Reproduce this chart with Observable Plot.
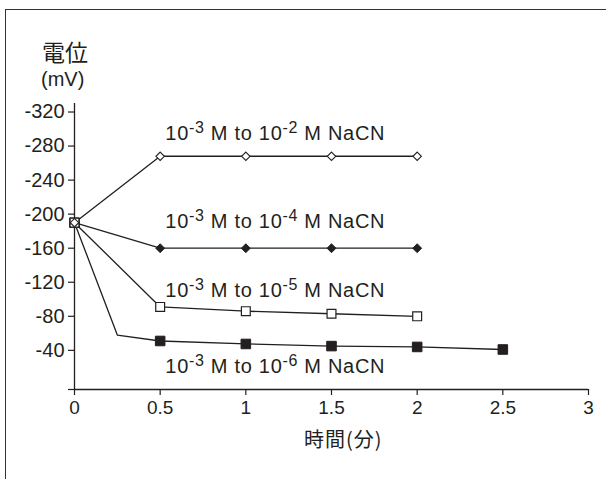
<!DOCTYPE html>
<html><head><meta charset="utf-8">
<script src="https://cdn.jsdelivr.net/npm/d3@7"></script>
<script src="https://cdn.jsdelivr.net/npm/@observablehq/plot@0.6"></script>
<style>
body{margin:0;background:#fff;}
#wrap{position:relative;width:606px;height:479px;overflow:hidden;background:#fff;}
#frame{position:absolute;left:5px;top:9px;width:700px;height:600px;border:1.3px solid #333;}
.t{position:absolute;color:#231f20;white-space:nowrap;line-height:1;}
#chart{position:absolute;left:0;top:0;}
</style></head><body>
<div id="wrap"><div id="frame"></div>
<div class="t" style="left:42px;top:40px;font-size:23px;font-family:'Noto Sans CJK JP'">電位</div>
<div class="t" style="left:41px;top:69px;font-size:20px;font-family:'Liberation Sans',Arial,sans-serif">(mV)</div>
<div class="t" style="left:304px;top:429px;font-size:20px;letter-spacing:1px;font-family:'Noto Sans CJK JP'">時間(分)</div>
<div id="chart"></div>
</div>
<script>
// ---- data ----
const xTicks = [0, 0.5, 1, 1.5, 2, 2.5, 3];
const yTicks = [-320, -280, -240, -200, -160, -120, -80, -40];

const s2Time = [0, 0.5, 1, 1.5, 2];
const s2Val  = [-190, -268, -268, -268, -268];      // 10^-3 M to 10^-2 M NaCN

const s4Time = [0, 0.5, 1, 1.5, 2];
const s4Val  = [-190, -160, -160, -160, -160];      // 10^-3 M to 10^-4 M NaCN

const s5Time = [0, 0.5, 1, 1.5, 2];
const s5Val  = [-190, -91, -86, -83, -80];          // 10^-3 M to 10^-5 M NaCN

const s6Time = [0, 0.25, 0.5, 1, 1.5, 2, 2.5];
const s6Val  = [-190, -58, -51, -47.5, -45, -44, -41]; // 10^-3 M to 10^-6 M NaCN
const s6Marked = [true, false, true, true, true, true, true];

const labelText = ["10^{-3} M to 10^{-2} M NaCN", "10^{-3} M to 10^{-4} M NaCN",
                   "10^{-3} M to 10^{-5} M NaCN", "10^{-3} M to 10^{-6} M NaCN"];
const labelX = [0.53, 0.53, 0.53, 0.53];
const labelY = [-295, -191, -110, -21];

// ---- build ----
const mk = (t, v) => t.map((x, i) => ({x, y: v[i]}));
const d2 = mk(s2Time, s2Val), d4 = mk(s4Time, s4Val), d5 = mk(s5Time, s5Val);
const d6 = mk(s6Time, s6Val);
const d6m = d6.filter((d, i) => s6Marked[i]);
const labels = labelText.map((t, i) => ({t, x: labelX[i], y: labelY[i]}));
const ink = "#231f20";

const plot = Plot.plot({
  width: 606, height: 479,
  marginLeft: 74, marginRight: 18, marginTop: 103, marginBottom: 90,
  style: {fontFamily: "'Liberation Sans', Arial, sans-serif", fontSize: "20px", color: ink, background: "transparent", overflow: "visible"},
  x: {domain: [0, 3]},
  y: {domain: [6, -330]},
  marks: [
    Plot.axisY({ticks: yTicks, tickSize: 6, tickPadding: 4, tickFormat: d => String(d), label: null, strokeWidth: 1.2, fontSize: 20}),
    Plot.axisY({ticks: [6], tickSize: 6, tickFormat: () => "", label: null, strokeWidth: 1.2}),
    Plot.axisX({ticks: xTicks, tickSize: 6, tickPadding: 5, tickFormat: d => String(d), label: null, strokeWidth: 1.2, fontSize: 19}),
    Plot.ruleX([0], {stroke: ink, strokeWidth: 1.3}),
    Plot.ruleY([6], {stroke: ink, strokeWidth: 1.3}),
    Plot.line(d6, {x: "x", y: "y", stroke: ink, strokeWidth: 1.3}),
    Plot.line(d5, {x: "x", y: "y", stroke: ink, strokeWidth: 1.3}),
    Plot.line(d4, {x: "x", y: "y", stroke: ink, strokeWidth: 1.3}),
    Plot.line(d2, {x: "x", y: "y", stroke: ink, strokeWidth: 1.3}),
    Plot.dot(d6m, {x: "x", y: "y", symbol: "square", r: 5.4, fill: ink, stroke: ink, strokeWidth: 1}),
    Plot.dot(d4, {x: "x", y: "y", symbol: "diamond2", r: 4, fill: ink, stroke: ink, strokeWidth: 1}),
    Plot.dot(d5, {x: "x", y: "y", symbol: "square", r: 5, fill: "white", stroke: ink, strokeWidth: 1.2}),
    Plot.dot(d2, {x: "x", y: "y", symbol: "diamond2", r: 3.8, fill: "white", stroke: ink, strokeWidth: 1.1}),
    Plot.text(labels, {x: "x", y: "y", text: "t", textAnchor: "start", lineAnchor: "middle", fill: ink, fontSize: 20, className: "lbl"})
  ]
});
document.getElementById("chart").appendChild(plot);

// render superscripts as tspans
d3.select(plot).selectAll(".lbl text").each(function () {
  const s = this.textContent;
  const parts = s.split(/\^\{([^}]*)\}/);
  const el = d3.select(this);
  el.text(null).style("letter-spacing", "0.7px");
  let prevSup = false;
  parts.forEach((p, i) => {
    if (!p) return;
    const sup = i % 2 === 1;
    const ts = el.append("tspan").text(p);
    if (sup) { ts.attr("font-size", 16).attr("dy", -7); prevSup = true; }
    else if (prevSup) { ts.attr("dy", 7); prevSup = false; }
  });
});
</script>
</body></html>
